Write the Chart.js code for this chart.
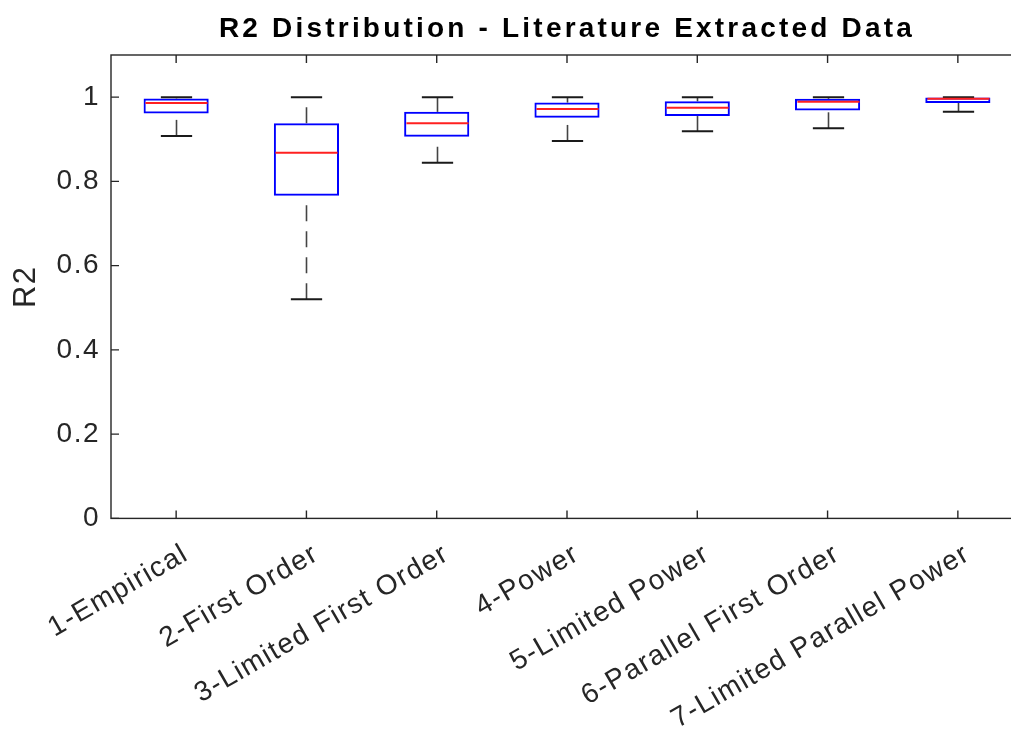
<!DOCTYPE html>
<html>
<head>
<meta charset="utf-8">
<script src="https://cdn.jsdelivr.net/npm/chart.js@4"></script>
<style>
    html, body { margin: 0; padding: 0; background: #fff; overflow: hidden; }
    #wrap { position: relative; width: 1040px; height: 733px; }
</style>
</head>
<body>
<div id="wrap"><canvas id="boxChart"></canvas></div>
<script>
const TITLE = 'R2 Distribution - Literature Extracted Data';

const MODELS = [
    '1-Empirical',
    '2-First Order',
    '3-Limited First Order',
    '4-Power',
    '5-Limited Power',
    '6-Parallel First Order',
    '7-Limited Parallel Power'
];

// box plot stats
const WHISKER_LOW  = [0.908, 0.520, 0.844, 0.896, 0.919, 0.926, 0.965];
const Q1           = [0.961, 0.766, 0.906, 0.951, 0.955, 0.968, 0.986];
const MEDIAN       = [0.986, 0.868, 0.938, 0.972, 0.975, 0.989, 0.996];
const Q3           = [0.997, 0.938, 0.965, 0.987, 0.990, 0.996, 0.999];
const WHISKER_HIGH = [1.000, 1.000, 1.000, 1.000, 1.000, 1.000, 1.000];

const AXIS_COLOR = '#262626';
const FONT = '"Liberation Sans", Arial, Helvetica, sans-serif';

// whiskers, caps and medians on top of the bars
const boxExtras = {
    id: 'boxExtras',
    afterDatasetsDraw(chart) {
        const ctx = chart.ctx;
        const x = chart.scales.x;
        const y = chart.scales.y;
        const step = x.getPixelForValue(1) - x.getPixelForValue(0);
        const boxHalf = step * 0.25;
        const capHalf = step * 0.12;

        ctx.save();
        MODELS.forEach((m, i) => {
            const cx = Math.round(x.getPixelForValue(i)) + 0.5;

            // dashed whiskers, drawn bottom to top
            ctx.strokeStyle = '#444';
            ctx.lineWidth = 1.6;
            ctx.setLineDash([16, 10]);
            ctx.beginPath();
            ctx.moveTo(cx, y.getPixelForValue(WHISKER_LOW[i]));
            ctx.lineTo(cx, y.getPixelForValue(Q1[i]));
            ctx.stroke();
            ctx.beginPath();
            ctx.moveTo(cx, y.getPixelForValue(Q3[i]));
            ctx.lineTo(cx, y.getPixelForValue(WHISKER_HIGH[i]));
            ctx.stroke();

            // caps
            ctx.setLineDash([]);
            ctx.strokeStyle = '#1a1a1a';
            ctx.lineWidth = 2;
            [WHISKER_LOW[i], WHISKER_HIGH[i]].forEach(v => {
                const py = y.getPixelForValue(v);
                ctx.beginPath();
                ctx.moveTo(cx - capHalf, py);
                ctx.lineTo(cx + capHalf, py);
                ctx.stroke();
            });

            // median
            ctx.strokeStyle = '#ff2020';
            ctx.lineWidth = 2;
            const my = y.getPixelForValue(MEDIAN[i]);
            ctx.beginPath();
            ctx.moveTo(cx - boxHalf + 1.5, my);
            ctx.lineTo(cx + boxHalf - 1.5, my);
            ctx.stroke();
        });
        ctx.restore();
    }
};

// matlab style frame with inward ticks, plus the title
const frame = {
    id: 'frame',
    beforeDraw(chart) {
        chart.ctx.letterSpacing = '1.5px';
    },
    afterDraw(chart) {
        const ctx = chart.ctx;
        const a = chart.chartArea;
        const x = chart.scales.x;
        const y = chart.scales.y;
        const tick = 8;

        ctx.save();
        ctx.strokeStyle = AXIS_COLOR;
        ctx.lineWidth = 1.4;
        ctx.strokeRect(a.left, a.top, a.right - a.left, a.bottom - a.top);

        ctx.beginPath();
        y.ticks.forEach(t => {
            const py = y.getPixelForValue(t.value);
            ctx.moveTo(a.left, py);
            ctx.lineTo(a.left + tick, py);
            ctx.moveTo(a.right, py);
            ctx.lineTo(a.right - tick, py);
        });
        MODELS.forEach((m, i) => {
            const px = x.getPixelForValue(i);
            ctx.moveTo(px, a.bottom);
            ctx.lineTo(px, a.bottom - tick);
            ctx.moveTo(px, a.top);
            ctx.lineTo(px, a.top + tick);
        });
        ctx.stroke();

        ctx.font = 'bold 28px ' + FONT;
        ctx.letterSpacing = '3.2px';
        ctx.fillStyle = '#000';
        ctx.textAlign = 'center';
        ctx.textBaseline = 'alphabetic';
        ctx.fillText(TITLE, (a.left + a.right) / 2, 37);
        ctx.restore();
    }
};

new Chart(document.getElementById('boxChart'), {
    type: 'bar',
    data: {
        labels: MODELS,
        datasets: [{
            data: Q1.map((q, i) => [q, Q3[i]]),
            backgroundColor: 'rgba(0,0,0,0)',
            borderColor: '#0000ff',
            borderWidth: 2,
            borderSkipped: false,
            barPercentage: 0.5,
            categoryPercentage: 1
        }]
    },
    options: {
        responsive: true,
        maintainAspectRatio: false,
        animation: false,
        layout: { padding: { top: 55, right: 17, bottom: 0, left: 0 } },
        plugins: {
            legend: { display: false },
            tooltip: { enabled: false },
            title: { display: false }
        },
        scales: {
            x: {
                grid: { display: false, drawTicks: false },
                border: { display: false },
                ticks: {
                    autoSkip: false,
                    maxRotation: 30,
                    minRotation: 30,
                    padding: 19,
                    labelOffset: 10,
                    color: AXIS_COLOR,
                    font: { family: FONT, size: 28 }
                },
                afterFit(s) { s.height = 214.6; }
            },
            y: {
                min: 0,
                max: 1.1,
                grid: { display: false, drawTicks: false },
                border: { display: false },
                ticks: {
                    stepSize: 0.2,
                    includeBounds: false,
                    padding: 11,
                    color: AXIS_COLOR,
                    font: { family: FONT, size: 28 },
                    callback: v => String(Number(v.toFixed(2)))
                },
                title: {
                    display: true,
                    text: 'R2',
                    color: AXIS_COLOR,
                    padding: { top: 8, bottom: 0 },
                    font: { family: FONT, size: 31 }
                },
                afterFit(s) { s.width = 111; }
            }
        }
    },
    plugins: [boxExtras, frame]
});
</script>
</body>
</html>
